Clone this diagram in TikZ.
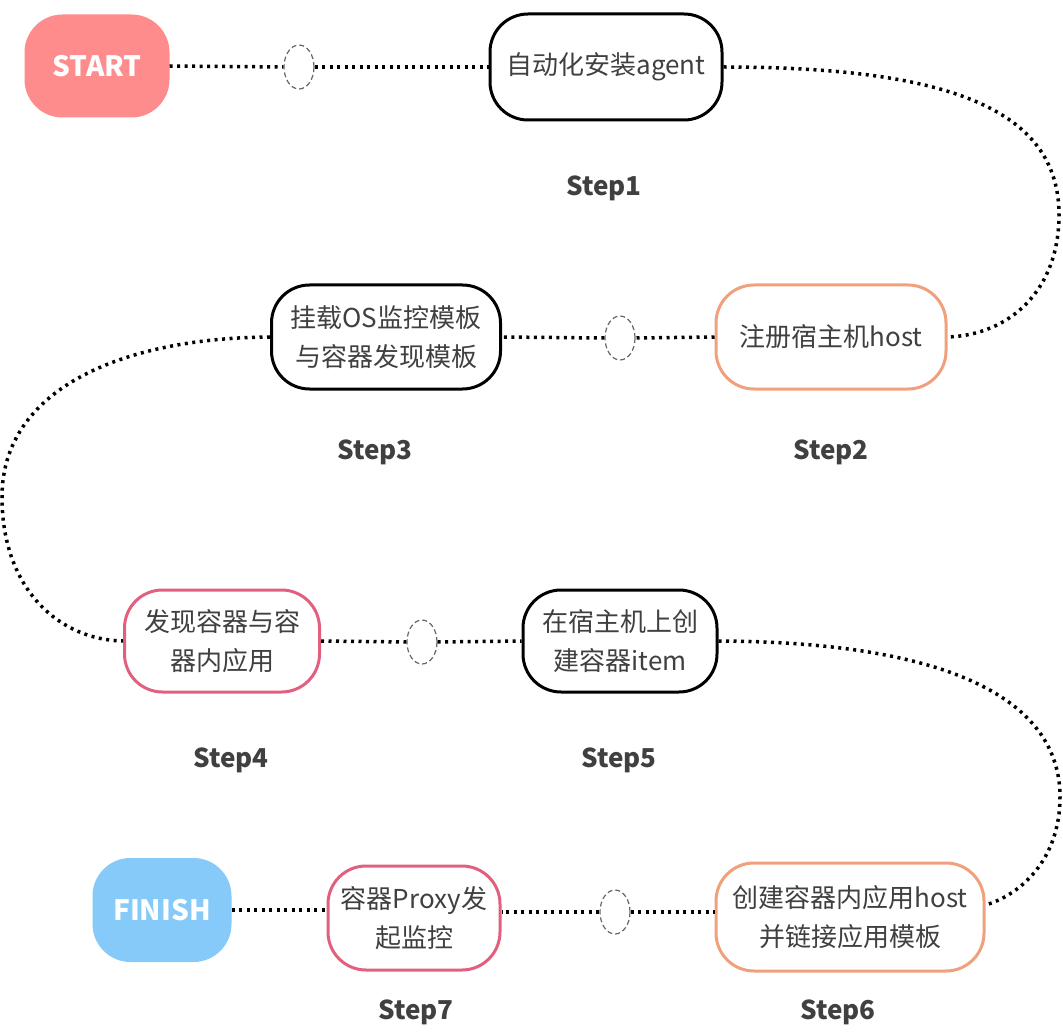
\documentclass[tikz,border=0pt]{standalone}
\usepackage{fontspec}
\setmainfont{Noto Sans CJK SC}
\usetikzlibrary{shapes.geometric}
\definecolor{startc}{HTML}{FF8C8C}
\definecolor{finc}{HTML}{85CAF8}
\definecolor{orangec}{HTML}{F0A07C}
\definecolor{pinkc}{HTML}{E2607E}
\definecolor{txtc}{HTML}{404040}
\tikzset{
  stepbox/.style={rectangle, rounded corners=38pt, line width=3pt, fill=white,
    inner sep=0pt, align=center, text=txtc,
    font=\fontsize{26pt}{39pt}\selectfont},
  endbox/.style={rectangle, rounded corners=38pt, draw=none, inner sep=0pt,
    text=white, font=\fontsize{28pt}{30pt}\selectfont\bfseries},
  steplabel/.style={text=txtc, font=\fontsize{26pt}{28pt}\selectfont\bfseries},
  ring/.style={ellipse, draw=black!60, line width=1.2pt, dash pattern=on 5pt off 3pt,
    minimum width=30pt, minimum height=44pt, inner sep=0pt},
  dots/.style={line width=3.5pt, dash pattern=on 3pt off 4.5pt, black}
}
\begin{document}
\begin{tikzpicture}[x=1pt,y=-1pt]
\useasboundingbox[fill=white] (0,0) rectangle (1063,1032);
% row 1
\node[endbox, fill=startc, minimum width=145pt, minimum height=103pt] (start) at (97,66) {START};
\node[ring] (c1) at (299,67) {};
\node[stepbox, draw=black, minimum width=232pt, minimum height=106pt] (s1) at (606,67) {自动化安装agent};
\node[steplabel] (l1) at (604,188) {Step1};
% row 2
\node[stepbox, draw=black, minimum width=229pt, minimum height=104pt] (s3) at (386,337) {挂载OS监控模板\\与容器发现模板};
\node[ring] (c2) at (620,338) {};
\node[stepbox, draw=orangec, minimum width=230pt, minimum height=104pt] (s2) at (831,337) {注册宿主机host};
\node[steplabel] (l3) at (375,452) {Step3};
\node[steplabel] (l2) at (831,452) {Step2};
% row 3
\node[stepbox, draw=pinkc, minimum width=195pt, minimum height=102pt] (s4) at (222,641) {发现容器与容\\器内应用};
\node[ring] (c3) at (422,642) {};
\node[stepbox, draw=black, minimum width=194pt, minimum height=102pt] (s5) at (620,641) {在宿主机上创\\建容器item};
\node[steplabel] (l4) at (231,760) {Step4};
\node[steplabel] (l5) at (619,760) {Step5};
% row 4
\node[endbox, fill=finc, minimum width=139pt, minimum height=104pt] (fin) at (162,910) {FINISH};
\node[stepbox, draw=pinkc, minimum width=172pt, minimum height=104pt] (s7) at (414,918) {容器Proxy发\\起监控};
\node[ring] (c4) at (615,912) {};
\node[stepbox, draw=orangec, minimum width=268pt, minimum height=108pt] (s6) at (850,917) {创建容器内应用host\\并链接应用模板};
\node[steplabel] (l7) at (416,1012) {Step7};
\node[steplabel] (l6) at (838,1012) {Step6};
% connectors
\draw[dots] (start.east) -- (c1.west);
\draw[dots] (c1.east) -- (s1.west);
\draw[dots] (s1.east) .. controls (950,67) and (1059,110) .. (1059,215)
  .. controls (1059,290) and (1010,335) .. (s2.east);
\draw[dots] (s2.west) -- (c2.east);
\draw[dots] (c2.west) -- (s3.east);
\draw[dots] (s3.west) .. controls (120,338) and (2,390) .. (2,497)
  .. controls (2,590) and (60,640) .. (s4.west);
\draw[dots] (s4.east) -- (c3.west);
\draw[dots] (c3.east) -- (s5.west);
\draw[dots] (s5.east) .. controls (950,642) and (1060,700) .. (1060,797)
  .. controls (1060,860) and (1020,895) .. ([yshift=12pt]s6.east);
\draw[dots] (c4.east) -- (c4.east -| s6.west);
\draw[dots] (c4.west) -- (c4.west -| s7.east);
\draw[dots] (fin.east) -- (fin.east -| s7.west);
\end{tikzpicture}
\end{document}
